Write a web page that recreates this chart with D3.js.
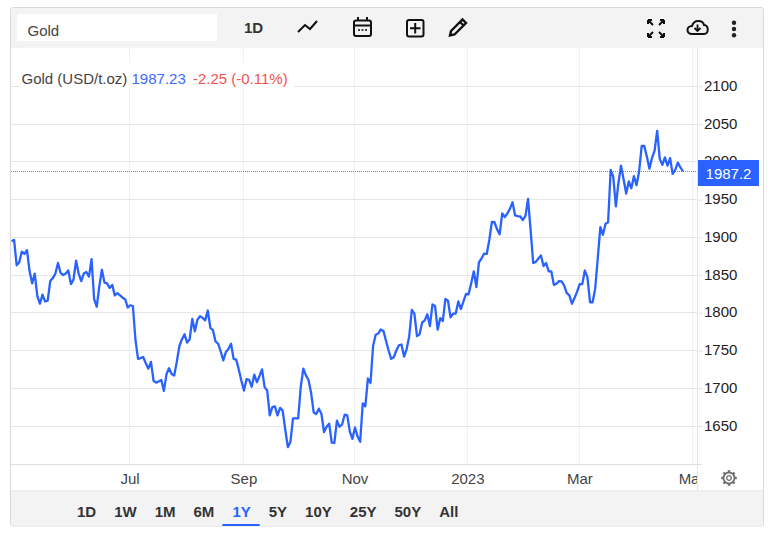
<!DOCTYPE html>
<html>
<head>
<meta charset="utf-8">
<title>Gold</title>
<script src="https://d3js.org/d3.v7.min.js"></script>
<style>
  html, body { margin: 0; padding: 0; background: #fff; }
  svg { display: block; }
  text { font-family: "Liberation Sans", Arial, sans-serif; }
</style>
</head>
<body>
<svg id="chart" width="769" height="537"></svg>
<script>
// daily close, USD/t.oz
const prices = [
  1895, 1896.5, 1863, 1867, 1881, 1878, 1883, 1855, 1839, 1852,
  1822, 1812, 1824, 1815, 1816, 1842, 1846, 1852, 1866, 1853,
  1850, 1852, 1856, 1838, 1844, 1869, 1852, 1842, 1852, 1854,
  1848, 1871, 1818, 1808, 1835, 1857, 1840, 1839, 1833, 1837,
  1823, 1826, 1823, 1820, 1818, 1807, 1810, 1809, 1764, 1739,
  1740, 1741.5, 1733, 1726, 1735, 1710, 1707.5, 1709, 1711, 1696.5,
  1718.5, 1726.5, 1719, 1717, 1735, 1756, 1765, 1771.5, 1760.5, 1765,
  1792, 1775.6, 1791, 1795.6, 1793.3, 1790, 1803, 1780, 1777, 1762,
  1759, 1749, 1737, 1748, 1752, 1759, 1739, 1738, 1725, 1710,
  1697, 1712, 1711, 1702, 1718, 1708, 1716, 1725, 1701.5, 1697,
  1664, 1675, 1676, 1664, 1674, 1670.5, 1645, 1622, 1629, 1660,
  1660, 1660, 1702, 1726, 1717, 1711, 1694, 1668, 1666, 1673,
  1666, 1642, 1649, 1653, 1628, 1627.5, 1657, 1649, 1652, 1665,
  1664, 1642.6, 1633, 1648, 1636, 1629, 1680, 1676, 1713, 1707,
  1756, 1771, 1772.5, 1778, 1776, 1763, 1750, 1739, 1741, 1750,
  1757, 1758, 1742, 1752, 1769, 1804, 1799, 1769, 1771.5, 1787,
  1790, 1798, 1782.5, 1811, 1809, 1777.6, 1793, 1789, 1818.5, 1816,
  1794, 1799, 1799, 1815, 1805, 1815, 1825, 1824.6, 1839.5, 1855,
  1834, 1867, 1872, 1878.5, 1878, 1896.5, 1920.6, 1920, 1910.5, 1904,
  1931.6, 1927, 1931.6, 1938, 1946.5, 1929, 1928, 1927.6, 1923, 1928.5,
  1951, 1909.6, 1866, 1867.5, 1872, 1876, 1862, 1866, 1855, 1855,
  1837, 1838.5, 1842, 1841.6, 1836, 1826, 1823, 1812, 1819.5, 1828,
  1838, 1838, 1856, 1847, 1814, 1814, 1832, 1872.5, 1913.6, 1903.4,
  1918, 1920, 1989.5, 1980, 1941, 1972, 1995, 1977, 1958, 1974,
  1965, 1981, 1969, 1987, 2021, 2021, 2007, 1991, 2005, 2015,
  2041, 2004, 1996, 2006, 1995, 2005, 1984, 1989.5, 1999, 1992.6,
  1987.23
];
const yTicks = [1650, 1700, 1750, 1800, 1850, 1900, 1950, 2000, 2050, 2100];
const monthLabels = ["Jul", "Sep", "Nov", "2023", "Mar", "May"];
const monthDays = [45.7, 89.8, 132.8, 176.5, 219.9, 263.6]; // trading day the month starts on
const ranges = ["1D", "1W", "1M", "6M", "1Y", "5Y", "10Y", "25Y", "50Y", "All"];
const activeRange = "1Y";
const lastPrice = 1987.23;

const blue = "#2962ff";
const svg = d3.select("#chart");
const plot = { left: 11, right: 697, top: 48, bottom: 464 };

const x = d3.scaleLinear().domain([0, prices.length - 1]).range([11.5, 683]);
const y = d3.scaleLinear().domain([1650, 2100]).range([426, 86.4]);

svg.append("defs").append("clipPath").attr("id", "plotClip")
  .append("rect").attr("x", plot.left).attr("y", plot.top)
  .attr("width", plot.right - plot.left).attr("height", 443);

// frame and toolbars
svg.append("rect").attr("x", 10.5).attr("y", 7.5).attr("width", 753).attr("height", 518.5)
  .attr("rx", 2).attr("fill", "#fff").attr("stroke", "#d9d9d9");
svg.append("rect").attr("x", 11).attr("y", 8).attr("width", 752).attr("height", 40).attr("fill", "#f3f3f3");
svg.append("rect").attr("x", 11).attr("y", 491.5).attr("width", 752).attr("height", 34).attr("fill", "#f3f3f3");
svg.append("line").attr("x1", 11).attr("x2", 763).attr("y1", 491).attr("y2", 491).attr("stroke", "#e3e3e3");

// grid
svg.append("g").selectAll("line").data(monthDays).join("line")
  .attr("x1", d => Math.floor(x(d)) + 0.5).attr("x2", d => Math.floor(x(d)) + 0.5)
  .attr("y1", plot.top).attr("y2", plot.bottom).attr("stroke", "#edf0f4");
svg.append("g").selectAll("line").data(yTicks).join("line")
  .attr("x1", plot.left).attr("x2", plot.right)
  .attr("y1", d => Math.floor(y(d)) + 0.5).attr("y2", d => Math.floor(y(d)) + 0.5)
  .attr("stroke", "#e6e6e6");

// y axis
const yAxis = svg.append("g").attr("transform", "translate(697.5,0)")
  .call(d3.axisRight(y).tickValues(yTicks).tickSize(4).tickPadding(2.5).tickFormat(d3.format("d")));
yAxis.select(".domain").remove();
yAxis.selectAll("line").attr("stroke", "#e0e0e0").attr("x1", 1).attr("x2", 5);
yAxis.selectAll("text").attr("font-size", 15).attr("fill", "#222")
  .attr("font-family", "Liberation Sans").attr("dy", "0.27em");
svg.append("line").attr("x1", 697.5).attr("x2", 697.5).attr("y1", plot.top).attr("y2", 491).attr("stroke", "#e3e3e3");
svg.append("line").attr("x1", plot.left).attr("x2", 702).attr("y1", 464.5).attr("y2", 464.5).attr("stroke", "#e0e0e0");

// x axis, the last label is cut by the price panel
const xAxis = svg.append("g").attr("clip-path", "url(#plotClip)")
  .append("g").attr("transform", "translate(0,464)")
  .call(d3.axisBottom(x).tickValues(monthDays).tickSize(0).tickPadding(9)
    .tickFormat((d, i) => monthLabels[i]));
xAxis.select(".domain").remove();
xAxis.selectAll("text").attr("font-size", 15).attr("fill", "#444")
  .attr("font-family", "Liberation Sans");

// last price line
svg.append("line").attr("x1", plot.left).attr("x2", plot.right)
  .attr("y1", Math.floor(y(lastPrice)) + 0.5).attr("y2", Math.floor(y(lastPrice)) + 0.5)
  .attr("stroke", "#6a86d0").attr("stroke-dasharray", "1,1");

// price line
const line = d3.line().x((d, i) => x(i)).y(d => y(d));
svg.append("path").datum(prices).attr("d", line)
  .attr("fill", "none").attr("stroke", blue).attr("stroke-width", 2.3).attr("stroke-linejoin", "round");

// last price label
svg.append("rect").attr("x", 698).attr("y", 160).attr("width", 61).attr("height", 26).attr("fill", blue);
svg.append("text").attr("x", 728.5).attr("y", 179).attr("text-anchor", "middle")
  .attr("font-size", 15).attr("fill", "#fff").text(d3.format(".1f")(lastPrice));

// legend
svg.append("rect").attr("x", 20).attr("y", 63).attr("width", 274).attr("height", 24).attr("fill", "#fff");
const legend = svg.append("text").attr("x", 21.5).attr("y", 84).attr("font-size", 15);
legend.append("tspan").attr("fill", "#444").text("Gold (USD/t.oz) ");
legend.append("tspan").attr("fill", "#3d6bff").text(lastPrice + " ");
legend.append("tspan").attr("fill", "#ef5350").attr("dx", 3).text("-2.25 (-0.11%)");

// top toolbar
svg.append("rect").attr("x", 17).attr("y", 14).attr("width", 200).attr("height", 27).attr("fill", "#fff");
svg.append("text").attr("x", 27.5).attr("y", 36).attr("font-size", 15).attr("fill", "#444").text("Gold");
svg.append("text").attr("x", 253.5).attr("y", 33).attr("text-anchor", "middle")
  .attr("font-size", 15).attr("font-weight", "bold").attr("fill", "#333").text("1D");

const icons = svg.append("g").attr("fill", "none").attr("stroke", "#111").attr("stroke-width", 2);
icons.append("path").attr("d", "M298,32 L305,25 L310,29 L317,21");
icons.append("rect").attr("x", 354).attr("y", 20.5).attr("width", 17).attr("height", 15.5).attr("rx", 2);
icons.append("path").attr("d", "M354,25.5 H371 M358,17 V20.5 M367,17 V20.5");
icons.append("path").attr("d", "M358,30 H360 M361.5,30 H363.5 M365,30 H367").attr("stroke-width", 1.5);
icons.append("rect").attr("x", 407).attr("y", 20).attr("width", 16.5).attr("height", 16.5).attr("rx", 2);
icons.append("path").attr("d", "M415.2,23 V33.5 M410,28.2 H420.5");
icons.append("path").attr("stroke-width", 2.4)
  .attr("d", "M450,35.5 L451,31 L462.5,19.5 L466,23 L454.5,34.5 Z M460,22 L463.5,25.5");
icons.append("path").attr("stroke-width", 2)
  .attr("d", "M648,20 V24 M648,20 H652 M664,20 V24 M664,20 H660 M648,37 V33 M648,37 H652 M664,37 V33 M664,37 H660 M648.5,20.5 L653,25 M663.5,20.5 L659,25 M648.5,36.5 L653,32 M663.5,36.5 L659,32");
icons.append("path").attr("d", "M692,34 C686,34 686,26 692,26 C694,19 703,20 704,25 C709,25 709,34 704,34 Z");
icons.append("path").attr("d", "M697.5,24.5 V30 M694.5,28 L697.5,31 L700.5,28").attr("stroke-width", 1.8);
svg.append("g").selectAll("circle").data([0, 1, 2]).join("circle")
  .attr("cx", 734).attr("cy", d => 22.7 + d * 6.3).attr("r", 2.2).attr("fill", "#222");

// settings gear
const gear = svg.append("g").attr("transform", "translate(729,478)");
gear.append("circle").attr("r", 5.5).attr("fill", "none").attr("stroke", "#6f6f6f").attr("stroke-width", 1.8);
gear.append("circle").attr("r", 2.3).attr("fill", "none").attr("stroke", "#6f6f6f").attr("stroke-width", 1.3);
gear.selectAll("line").data(d3.range(8)).join("line")
  .attr("x1", d => 5.5 * Math.cos(d * Math.PI / 4)).attr("y1", d => 5.5 * Math.sin(d * Math.PI / 4))
  .attr("x2", d => 7.8 * Math.cos(d * Math.PI / 4)).attr("y2", d => 7.8 * Math.sin(d * Math.PI / 4))
  .attr("stroke", "#6f6f6f").attr("stroke-width", 2.4);

// range buttons
let bx = 77;
ranges.forEach(r => {
  const t = svg.append("text").attr("x", bx).attr("y", 517).attr("font-size", 15).attr("font-weight", "bold")
    .attr("fill", r === activeRange ? blue : "#333").text(r);
  const w = t.node().getComputedTextLength();
  if (r === activeRange) {
    svg.append("rect").attr("x", bx - 10).attr("y", 524).attr("width", w + 19).attr("height", 2).attr("fill", blue);
  }
  bx += w + 18;
});
</script>
</body>
</html>
